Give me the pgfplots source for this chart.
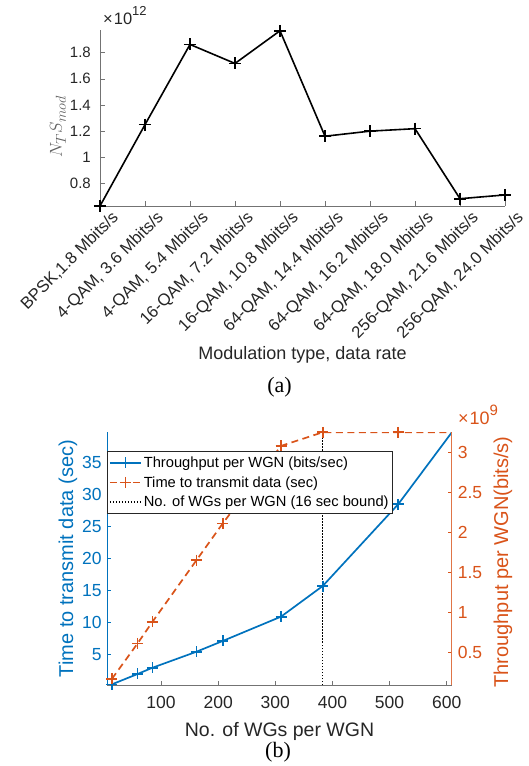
\documentclass[border=0pt]{standalone}
\usepackage{fontspec}
\setmainfont{Liberation Sans}
\newfontfamily\timesfont{Liberation Serif}
\usepackage{pgfplots}
\pgfplotsset{compat=1.18}
\definecolor{mblue}{rgb}{0,0.447,0.741}
\definecolor{morange}{rgb}{0.85,0.325,0.098}
\definecolor{mgray}{rgb}{0.15,0.15,0.15}
\begin{document}
\begin{tikzpicture}
\useasboundingbox (0pt,0pt) rectangle (528pt,766pt);
% ---------------- (a) ----------------
\begin{axis}[
  name=axA,
  at={(100pt,560pt)}, anchor=south west,
  scale only axis, width=405pt, height=176pt,
  xmin=1, xmax=10, ymin=0.623, ymax=1.975,
  axis x line*=bottom, axis y line*=left,
  axis line style={black!55, line width=0.6pt},
  tick align=inside, major tick length=5pt,
  tick style={black!55, line width=0.6pt},
  xtick={1,2,3,4,5,6,7,8,9,10},
  xticklabels={{BPSK,1.8 Mbits/s},{4-QAM, 3.6 Mbits/s},{4-QAM, 5.4 Mbits/s},{16-QAM, 7.2 Mbits/s},{16-QAM, 10.8 Mbits/s},{64-QAM, 14.4 Mbits/s},{64-QAM, 16.2 Mbits/s},{64-QAM, 18.0 Mbits/s},{256-QAM, 21.6 Mbits/s},{256-QAM, 24.0 Mbits/s}},
  ytick={0.8,1,1.2,1.4,1.6,1.8},
  /pgf/number format/assume math mode=true,
  tick label style={text=mgray},
  xticklabel style={font=\fontsize{16.7}{19}\selectfont, rotate=45, anchor=north east, inner sep=0pt, xshift=5pt, yshift=-10pt},
  yticklabel style={font=\fontsize{15}{17}\selectfont, anchor=east, inner sep=0pt, xshift=-9pt},
  xlabel={Modulation type, data rate},
  xlabel style={at={(axis description cs:0.5,-0.7994)}, anchor=north, inner sep=0pt, font=\fontsize{18}{20}\selectfont, text=mgray},
  ylabel={$N_T S_{mod}$},
  ylabel style={at={(axis description cs:-0.1037,0.45)}, anchor=center, inner sep=0pt, font=\fontsize{19}{21}\selectfont, text=black!62},
]
\addplot[black, line width=1.6pt, mark=+, mark size=6pt] coordinates {
 (1,0.623) (2,1.248) (3,1.864) (4,1.718) (5,1.969)
 (6,1.159) (7,1.198) (8,1.217) (9,0.679) (10,0.708)};
\end{axis}
\node[anchor=base west, inner sep=0pt, font=\fontsize{16.5}{18}\selectfont, text=mgray] at ([xshift=3pt,yshift=5pt]axA.north west) {×\kern1pt10\raisebox{0.55em}{\fontsize{13}{14}\selectfont 12}};
\node[font=\timesfont\fontsize{22}{24}\selectfont, inner sep=0pt] at (279.5pt,378.5pt) {(a)};
% ---------------- (b) ----------------
\begin{axis}[
  at={(107.3pt,81pt)}, anchor=south west,
  scale only axis, width=344.4pt, height=252.7pt,
  xmin=6, xmax=608.7, ymin=0.2, ymax=39.69,
  axis x line*=bottom, axis y line*=left,
  x axis line style={black!55, line width=0.6pt},
  y axis line style={mblue, line width=0.6pt},
  tick align=inside, major tick length=4pt,
  xtick style={black!55, line width=0.6pt},
  ytick style={mblue, line width=0.6pt},
  xtick={100,200,300,400,500,600},
  ytick={5,10,15,20,25,30,35},
  /pgf/number format/assume math mode=true,
  tick label style={font=\fontsize{17.5}{19}\selectfont},
  xticklabel style={anchor=north, inner sep=0pt, yshift=-11pt, text=mgray},
  yticklabel style={anchor=east, inner sep=0pt, xshift=-5.6pt, text=mblue},
  xlabel={No. of WGs per WGN},
  xlabel style={at={(axis description cs:0.5,-0.1452)}, anchor=north, inner sep=0pt, font=\fontsize{19.5}{22}\selectfont, text=mgray},
  ylabel={Time to transmit data (sec)},
  ylabel style={at={(axis description cs:-0.1141,0.5)}, anchor=center, inner sep=0pt, font=\fontsize{20}{22}\selectfont, text=mblue},
]
\addplot[mblue, line width=1.7pt, mark=+, mark size=5.5pt] coordinates {
 (14,0.3) (59,1.92) (85,2.9) (162,5.4) (208,7.08)
 (310,10.88) (383,15.67) (515,28.44) (609,39.69)};
\addplot[black, line width=1.5pt, dash pattern=on 1.5pt off 1.5pt] coordinates {(383,0.2) (383,39.69)};
\end{axis}
\begin{axis}[
  name=axB,
  at={(107.3pt,81pt)}, anchor=south west,
  scale only axis, width=344.4pt, height=252.7pt,
  xmin=6, xmax=608.7, ymin=0.09, ymax=3.25,
  axis x line=none, axis y line*=right,
  y axis line style={morange!80, line width=0.6pt},
  tick align=inside, major tick length=4pt,
  ytick style={morange, line width=0.6pt},
  ytick={0.5,1,1.5,2,2.5,3},
  /pgf/number format/assume math mode=true,
  tick label style={font=\fontsize{17.5}{19}\selectfont},
  yticklabel style={anchor=west, inner sep=0pt, xshift=6pt, text=morange},
  ylabel={Throughput per WGN(bits/s)},
  ylabel style={at={(axis description cs:1.149,0.487)}, anchor=center, rotate=0, inner sep=0pt, font=\fontsize{20}{22}\selectfont, text=morange},
  legend style={at={(axis description cs:0,0.926)}, anchor=north west, draw=mgray, fill=white, line width=0.6pt,
    font=\fontsize{14.7}{17}\selectfont, text=black, inner xsep=1.5pt, inner ysep=1.5pt,
    nodes={inner xsep=2pt, inner ysep=3.8pt}},
  legend cell align=left,
  legend image code/.code={\draw[mark repeat=2,mark phase=2,#1] plot coordinates {(0pt,0pt) (15.5pt,0pt) (31pt,0pt)};},
]
\addlegendimage{mblue, line width=1.7pt, mark=+, mark size=5.5pt}
\addlegendentry{Throughput per WGN (bits/sec)}
\addplot[morange, line width=1.7pt, dash pattern=on 7pt off 4.5pt, mark=+, mark size=5.5pt, mark options={solid, morange, line width=1.7pt}] coordinates {
 (14,0.166) (59,0.61) (85,0.88) (162,1.65) (208,2.11)
 (310,3.08) (383,3.25) (515,3.25) (609,3.25)};
\addlegendentry{Time to transmit data (sec)}
\addlegendimage{black, line width=1.5pt, dash pattern=on 1.5pt off 1.5pt}
\addlegendentry{No. of WGs per WGN (16 sec bound)}
\end{axis}
\node[anchor=base west, inner sep=0pt, font=\fontsize{18}{20}\selectfont, text=morange] at ([xshift=6.3pt,yshift=7.3pt]axB.north east) {×\kern1pt10\raisebox{0.5em}{\fontsize{15}{16}\selectfont 9}};
\node[font=\timesfont\fontsize{22}{24}\selectfont, inner sep=0pt] at (278pt,14pt) {(b)};
\end{tikzpicture}
\end{document}
